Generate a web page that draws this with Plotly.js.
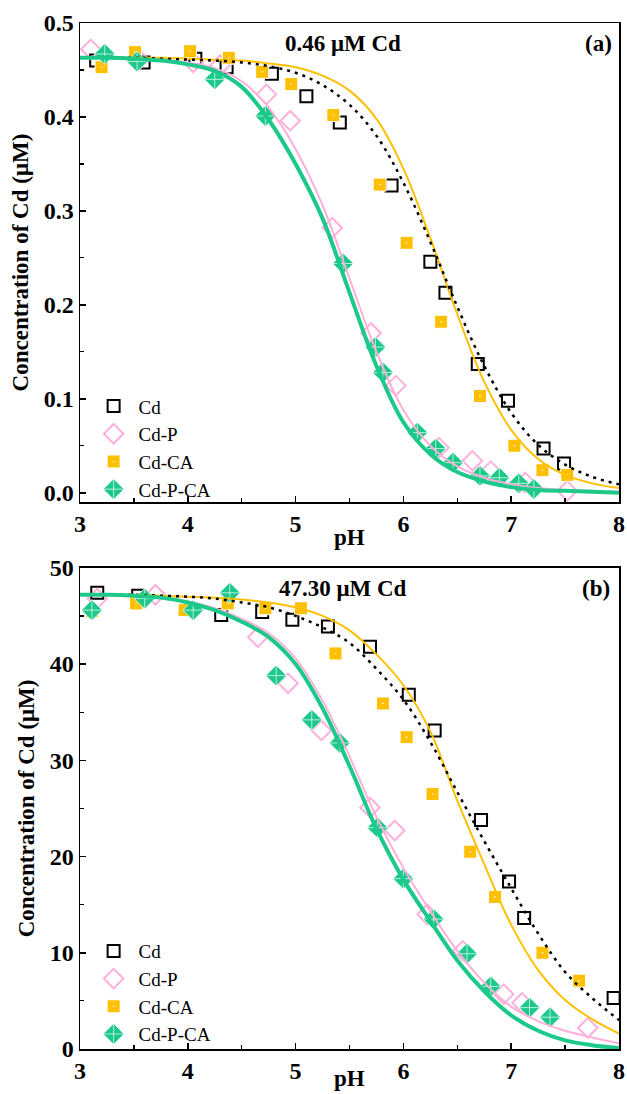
<!DOCTYPE html>
<html>
<head>
<meta charset="utf-8">
<script src="https://cdn.plot.ly/plotly-3.0.1.min.js"></script>
<style>html,body{margin:0;padding:0;background:#fff;}#chart{width:627px;height:1094px;}</style>
</head>
<body>
<div id="chart"></div>
<script>
// ---------- Panel (a): 0.46 uM Cd ----------
const a_cd_pH   = [3.15, 3.59, 4.07, 4.36, 4.78, 5.10, 5.41, 5.89, 6.25, 6.39, 6.69, 6.97, 7.30, 7.49];
const a_cd_val  = [0.460, 0.458, 0.462, 0.453, 0.446, 0.422, 0.394, 0.327, 0.246, 0.213, 0.137, 0.098, 0.047, 0.031];
const a_p_pH    = [3.10, 3.55, 4.05, 4.30, 4.73, 4.95, 5.34, 5.70, 5.93, 6.33, 6.64, 6.81, 7.13, 7.52];
const a_p_val   = [0.472, 0.461, 0.458, 0.455, 0.424, 0.396, 0.282, 0.170, 0.114, 0.048, 0.034, 0.023, 0.011, 0.002];
const a_ca_pH   = [3.20, 3.51, 4.02, 4.38, 4.69, 4.96, 5.35, 5.78, 6.03, 6.35, 6.71, 7.03, 7.29, 7.52];
const a_ca_val  = [0.453, 0.469, 0.470, 0.463, 0.448, 0.435, 0.402, 0.328, 0.266, 0.182, 0.103, 0.050, 0.024, 0.019];
const a_pca_pH  = [3.23, 3.53, 4.25, 4.72, 5.44, 5.74, 5.81, 6.13, 6.30, 6.46, 6.71, 6.89, 7.07, 7.21];
const a_pca_val = [0.467, 0.459, 0.440, 0.401, 0.244, 0.155, 0.128, 0.064, 0.047, 0.032, 0.018, 0.016, 0.010, 0.004];

// fitted curves
const fit_pH = [3, 3.25, 3.5, 3.75, 4, 4.25, 4.5, 4.75, 5, 5.25, 5.5, 5.75, 6, 6.25, 6.5, 6.75, 7, 7.25, 7.5, 7.75, 8];
const a_fit_cd  = [0.463,0.463,0.463,0.462,0.461,0.460,0.458,0.454,0.447,0.434,0.413,0.380,0.330,0.267,0.198,0.135,0.085,0.051,0.030,0.017,0.009];
const a_fit_p   = [0.463,0.463,0.462,0.461,0.458,0.452,0.438,0.410,0.366,0.306,0.228,0.150,0.088,0.050,0.028,0.016,0.009,0.005,0.003,0.002,0.001];
const a_fit_ca  = [0.463,0.463,0.463,0.463,0.462,0.461,0.460,0.457,0.453,0.444,0.428,0.398,0.345,0.271,0.190,0.118,0.067,0.036,0.019,0.010,0.005];
const a_fit_pca = [0.463,0.463,0.462,0.460,0.456,0.449,0.432,0.397,0.350,0.292,0.213,0.135,0.075,0.041,0.022,0.012,0.006,0.003,0.002,0.001,0.000];

// ---------- Panel (b): 47.30 uM Cd ----------
const b_cd_pH   = [3.16, 3.54, 4.31, 4.69, 4.97, 5.30, 5.69, 6.05, 6.29, 6.72, 6.98, 7.12, 7.95];
const b_cd_val  = [47.4, 47.1, 45.1, 45.4, 44.6, 43.9, 41.8, 36.8, 33.1, 23.8, 17.4, 13.6, 5.3];
const b_p_pH    = [3.16, 3.70, 4.65, 4.93, 5.24, 5.69, 5.92, 6.22, 6.55, 6.93, 7.10, 7.71];
const b_p_val   = [46.8, 47.2, 42.8, 38.0, 33.1, 25.1, 22.7, 14.0, 10.2, 5.7, 4.8, 2.2];
const b_ca_pH   = [3.11, 3.52, 3.97, 4.37, 4.72, 5.05, 5.37, 5.81, 6.03, 6.27, 6.62, 6.85, 7.29, 7.63];
const b_ca_val  = [45.5, 46.3, 45.6, 46.3, 45.8, 45.8, 41.1, 35.9, 32.4, 26.5, 20.5, 15.8, 10.0, 7.1];
const b_pca_pH  = [3.11, 3.60, 4.05, 4.39, 4.82, 5.15, 5.41, 5.76, 6.00, 6.28, 6.59, 6.81, 7.17, 7.36];
const b_pca_val = [45.6, 46.8, 45.6, 47.4, 38.8, 34.2, 31.8, 23.0, 17.7, 13.5, 9.9, 6.5, 4.3, 3.3];

const b_fit_cd  = [47.2,47.2,47.2,47.1,47.0,46.8,46.4,45.9,45.0,43.8,42.2,39.5,36.3,31.9,26.7,21.6,16.7,12.0,8.0,5.3,3.0];
const b_fit_p   = [47.2,47.2,47.1,46.9,46.5,45.8,44.7,43.2,40.6,36.2,30.4,24.1,18.8,14.3,10.2,6.9,4.4,2.9,1.9,1.2,0.6];
const b_fit_ca  = [47.2,47.2,47.2,47.1,47.0,46.9,46.7,46.4,45.9,45.0,43.5,41.0,37.8,33.0,25.8,19.2,12.9,8.2,5.1,3.1,1.6];
const b_fit_pca = [47.2,47.2,47.1,46.9,46.4,45.6,44.4,42.8,40.0,35.4,29.4,22.9,17.6,13.3,9.2,6.0,3.5,1.9,0.9,0.4,0.1];

const seriesNames = ['Cd', 'Cd-P', 'Cd-CA', 'Cd-P-CA'];
const panelTitles = ['0.46 μM Cd', '47.30 μM Cd'];
const panelTags = ['(a)', '(b)'];
const xTitle = 'pH';
const yTitle = 'Concentration of Cd (μM)';

const C_BLACK = '#000000', C_PINK = '#FFB0DA', C_ORANGE = '#FFC000', C_GREEN = '#1CC98B';
const SERIF = 'Liberation Serif, Times New Roman, serif';

const markerStyles = [
  {symbol: 'square-open', size: 12, color: C_BLACK, line: {width: 2, color: C_BLACK}},
  {symbol: 'diamond-open', size: 15, color: C_PINK, line: {width: 2, color: C_PINK}},
  {symbol: 'square-dot', size: 13, color: C_ORANGE, line: {width: 1, color: '#ffffff'}},
  {symbol: 'diamond-cross', size: 16, color: C_GREEN, line: {width: 0.8, color: 'rgba(255,255,255,0.85)'}}
];

function pts(x, y, i, xa, ya, leg) {
  return {x: x, y: y, type: 'scatter', mode: 'markers', name: seriesNames[i],
          xaxis: xa, yaxis: ya, legend: leg, marker: markerStyles[i], cliponaxis: false};
}
function fit(y, color, width, dash, xa, ya) {
  return {x: fit_pH, y: y, type: 'scatter', mode: 'lines', showlegend: false, hoverinfo: 'skip',
          xaxis: xa, yaxis: ya, line: {color: color, width: width, dash: dash, shape: 'spline', smoothing: 1}};
}

const data = [
  pts(a_cd_pH, a_cd_val, 0, 'x', 'y', 'legend'),
  pts(a_p_pH, a_p_val, 1, 'x', 'y', 'legend'),
  pts(a_ca_pH, a_ca_val, 2, 'x', 'y', 'legend'),
  pts(a_pca_pH, a_pca_val, 3, 'x', 'y', 'legend'),
  fit(a_fit_p, C_PINK, 2, 'solid', 'x', 'y'),
  fit(a_fit_ca, C_ORANGE, 2, 'solid', 'x', 'y'),
  fit(a_fit_cd, C_BLACK, 2.5, '3px,5px', 'x', 'y'),
  fit(a_fit_pca, C_GREEN, 4, 'solid', 'x', 'y'),

  pts(b_cd_pH, b_cd_val, 0, 'x2', 'y2', 'legend2'),
  pts(b_p_pH, b_p_val, 1, 'x2', 'y2', 'legend2'),
  pts(b_ca_pH, b_ca_val, 2, 'x2', 'y2', 'legend2'),
  pts(b_pca_pH, b_pca_val, 3, 'x2', 'y2', 'legend2'),
  fit(b_fit_p, C_PINK, 2, 'solid', 'x2', 'y2'),
  fit(b_fit_ca, C_ORANGE, 2, 'solid', 'x2', 'y2'),
  fit(b_fit_cd, C_BLACK, 2.5, '3px,5px', 'x2', 'y2'),
  fit(b_fit_pca, C_GREEN, 4, 'solid', 'x2', 'y2')
];

const tickFont = {family: SERIF, size: 24, color: '#000', weight: 'bold'};
const titleFont = {family: SERIF, size: 23, color: '#000', weight: 'bold'};

function xax(anchor) {
  return {range: [3, 8], dtick: 1, tick0: 3, ticks: 'inside', ticklen: 6, tickwidth: 1.5, tickcolor: '#000',
          minor: {dtick: 0.5, ticks: 'inside', ticklen: 4, tickwidth: 1.2, tickcolor: '#000'},
          showline: true, linecolor: '#000', linewidth: 1.5, mirror: true, showgrid: false, zeroline: false,
          tickfont: tickFont, anchor: anchor, ticklabeloverflow: 'allow'};
}
function yax(range, dtick, minor, fmt, domain, anchor) {
  return {range: range, dtick: dtick, tick0: 0, ticks: 'inside', ticklen: 6, tickwidth: 1.5, tickcolor: '#000',
          minor: {dtick: minor, ticks: 'inside', ticklen: 4, tickwidth: 1.2, tickcolor: '#000'},
          showline: true, linecolor: '#000', linewidth: 1.5, mirror: true, showgrid: false, zeroline: false,
          tickformat: fmt, tickfont: tickFont, domain: domain, anchor: anchor, ticklabeloverflow: 'allow',
          title: {text: yTitle, font: titleFont, standoff: 8}};
}

const legFont = {family: SERIF, size: 19, color: '#000'};
const annFont = {family: SERIF, size: 23, color: '#000', weight: 'bold'};

const layout = {
  width: 627, height: 1094,
  margin: {l: 80, r: 8, t: 23, b: 45},
  paper_bgcolor: '#fff', plot_bgcolor: '#fff',
  showlegend: true,
  xaxis: xax('y'),
  yaxis: yax([-0.01, 0.5], 0.1, 0.05, '.1f', [0.533, 1], 'x'),
  xaxis2: xax('y2'),
  yaxis2: yax([0, 50], 10, 5, 'd', [0, 0.469], 'x2'),
  legend: {x: 0.016, y: 0.645, xanchor: 'left', yanchor: 'top', font: legFont, bgcolor: 'rgba(0,0,0,0)',
           tracegroupgap: 0, itemwidth: 40},
  legend2: {x: 0.016, y: 0.114, xanchor: 'left', yanchor: 'top', font: legFont, bgcolor: 'rgba(0,0,0,0)',
            tracegroupgap: 0, itemwidth: 40},
  annotations: [
    {text: panelTitles[0], xref: 'x', yref: 'y', x: 5.44, y: 0.478, showarrow: false, font: annFont},
    {text: panelTags[0], xref: 'x', yref: 'y', x: 7.81, y: 0.478, showarrow: false, font: annFont},
    {text: panelTitles[1], xref: 'x2', yref: 'y2', x: 5.44, y: 47.8, showarrow: false, font: annFont},
    {text: panelTags[1], xref: 'x2', yref: 'y2', x: 7.79, y: 47.8, showarrow: false, font: annFont},
    {text: xTitle, xref: 'x domain', yref: 'y domain', x: 0.5, y: -0.073, yanchor: 'middle',
     showarrow: false, font: titleFont},
    {text: xTitle, xref: 'x2 domain', yref: 'y2 domain', x: 0.5, y: -0.062, yanchor: 'middle',
     showarrow: false, font: titleFont}
  ]
};

Plotly.newPlot('chart', data, layout, {displayModeBar: false, staticPlot: true});
</script>
</body>
</html>
